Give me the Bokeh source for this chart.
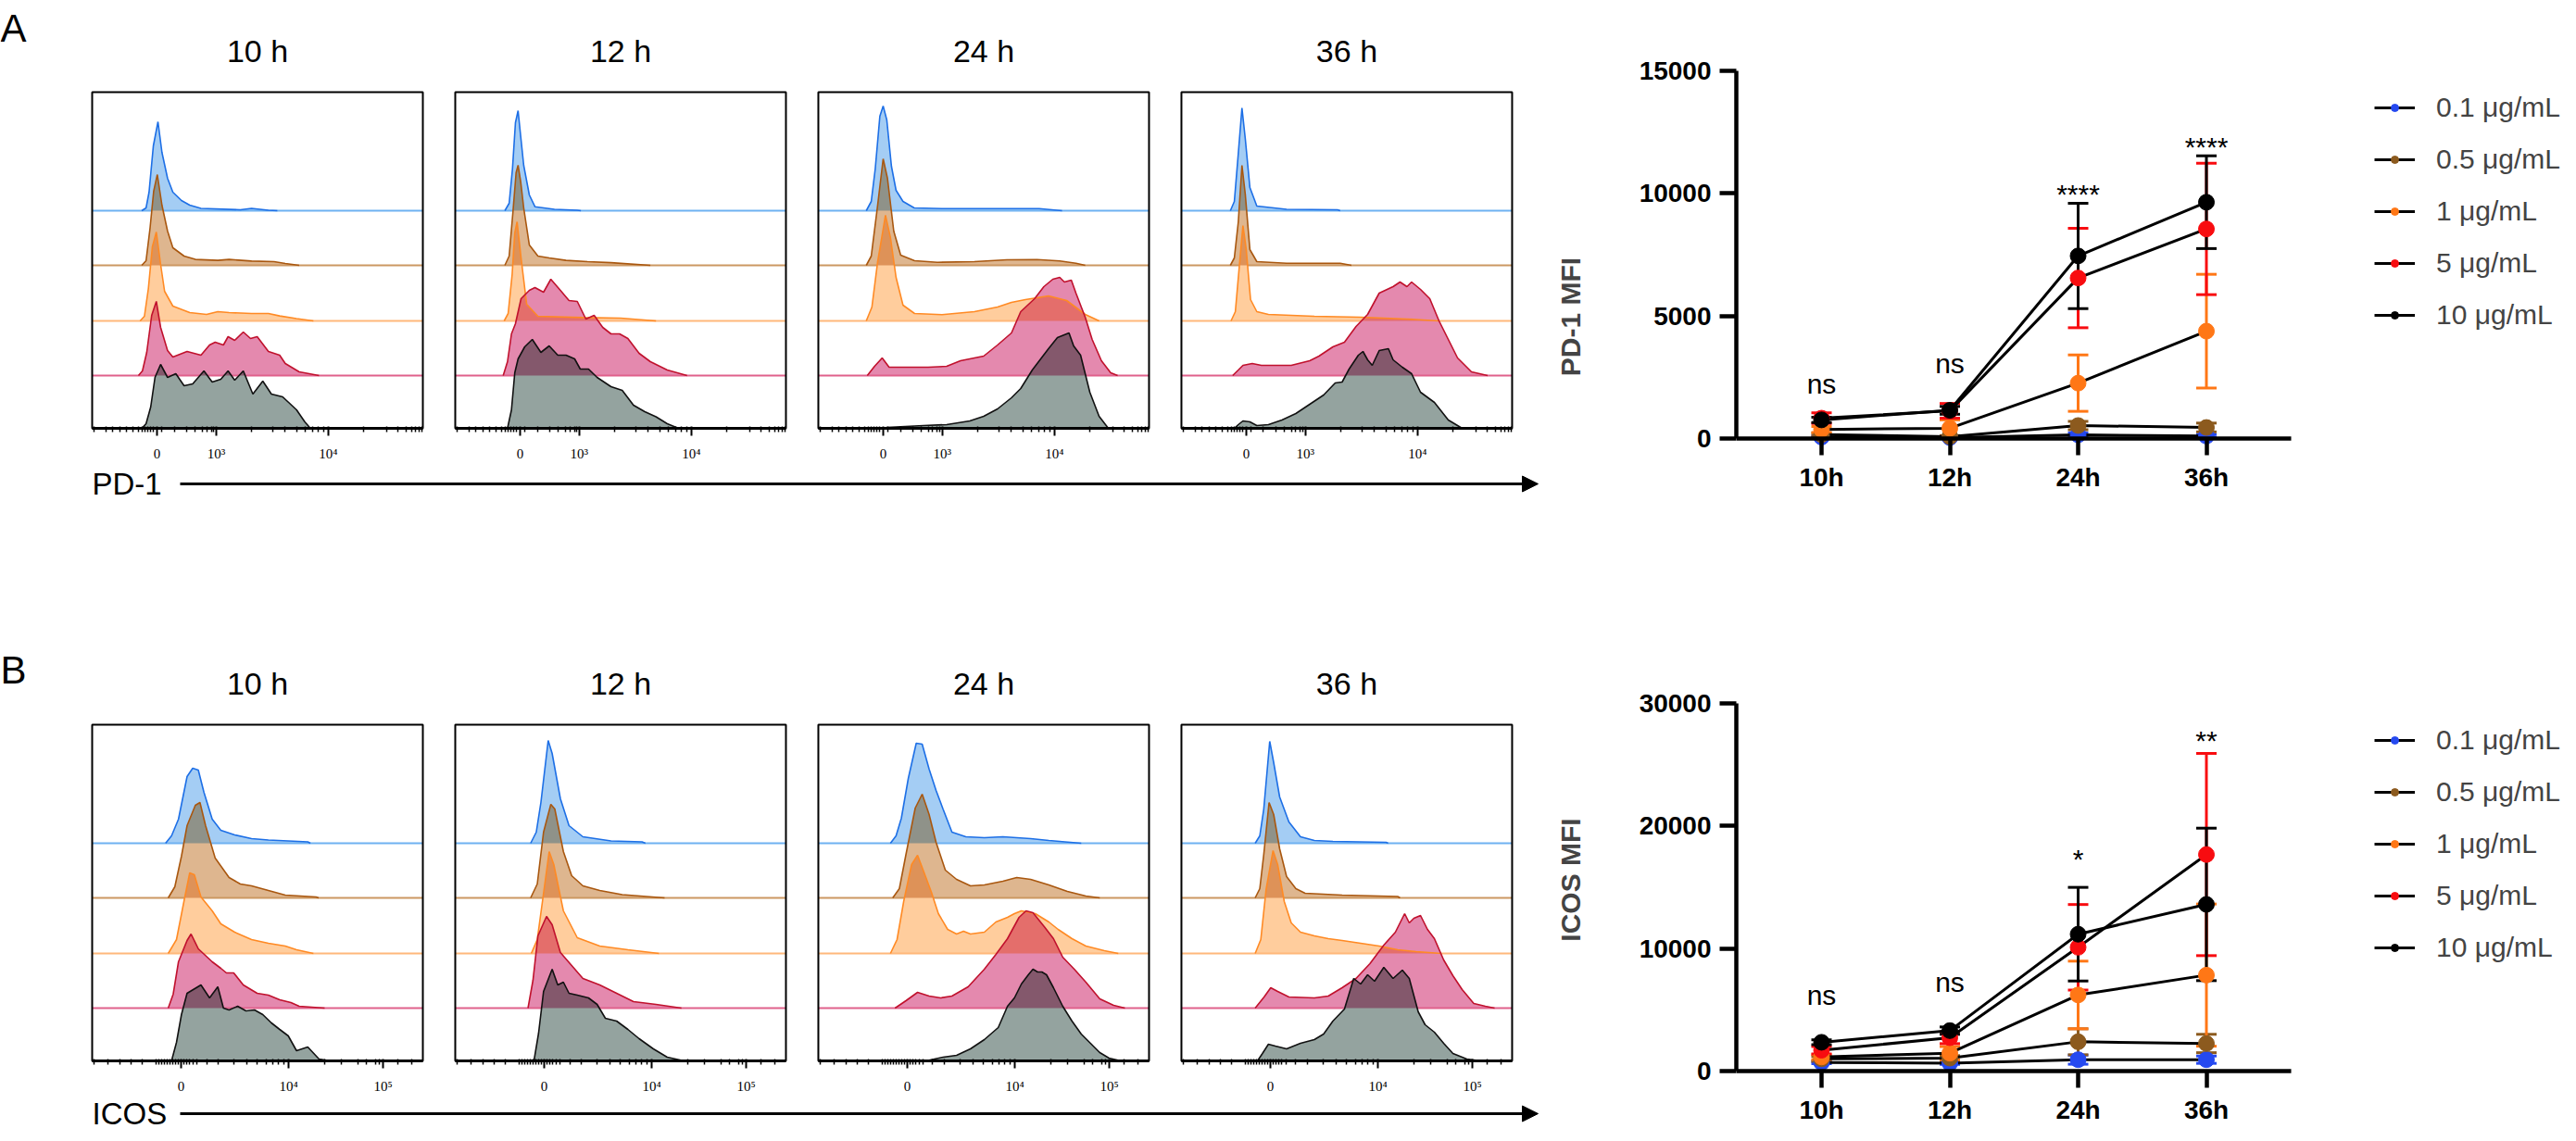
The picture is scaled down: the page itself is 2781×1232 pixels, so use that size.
import numpy as np
from bokeh.plotting import figure
from bokeh.layouts import row, column
from bokeh.models import (ColumnDataSource, FixedTicker, Range1d, Legend, LegendItem,
                          LinearAxis, Arrow, NormalHead)
from bokeh.core.properties import value
from bokeh.embed import file_html
from bokeh.resources import INLINE

FONT = "Liberation Sans"

TIMES = ["10 h", "12 h", "24 h", "36 h"]
TIME_TICKS = ["10h", "12h", "24h", "36h"]
DOSES = ["0.1 μg/mL", "0.5 μg/mL", "1 μg/mL", "5 μg/mL", "10 μg/mL"]

# FlowJo biex axis, read in box units (0..1000 across each plot box)
PD1_MAJOR = [196, 375, 714]
PD1_MAJOR_LABELS = ["0", "10³", "10⁴"]
PD1_MINOR = [7, 41, 63, 84, 104, 122, 139, 151, 160, 168, 177, 185, 211, 248, 287, 312,
             333, 346, 360, 368, 482, 545, 584, 618, 643, 666, 683, 699, 822, 890, 924,
             949, 966, 978, 988, 997]
ICOS_MAJOR = [269, 594, 880]
ICOS_MAJOR_LABELS = ["0", "10⁴", "10⁵"]
ICOS_MINOR = [7, 49, 83, 117, 151, 194, 202, 211, 219, 228, 236, 245, 253, 260, 278, 287,
              295, 304, 316, 346, 380, 428, 469, 499, 528, 545, 564, 581, 703, 754, 805,
              830, 856, 869, 924, 966]

# histogram outlines: (channel position, height above the row baseline)
pd1_10h_01 = [(150,0),(163,3),(172,20),(185,70),(199,96),(211,63),(228,35),(244,20),(270,11),(295,6),(329,2.5),(448,1),(482,2.5),(533,0.5),(560,0)]
pd1_10h_05 = [(150,0),(163,5),(175,40),(186,80),(197,98),(211,65),(228,37),(244,19),(278,10),(312,6.4),(380,5.4),(414,6.4),(482,4.6),(550,4),(584,2),(626,0)]
pd1_10h_1 = [(145,0),(158,5),(170,35),(182,80),(194,96),(207,61),(219,32),(244,16),(295,9),(346,7),(380,10),(414,9),(482,8),(533,8),(567,5.4),(618,2.5),(669,0)]
pd1_10h_5 = [(140,0),(152,5),(165,25),(180,65),(194,80),(207,52),(228,27),(244,20),(287,26),(329,22),(355,33),(372,36),(397,33),(411,42),(431,38),(457,47),(479,40),(499,42),(533,26),(567,22),(584,13),(626,4),(686,0)]
pd1_10h_10 = [(150,0),(163,5),(177,23),(190,55),(207,69),(228,55),(253,59),(278,46),(304,48),(338,62),(363,50),(389,53),(411,62),(431,52),(457,62),(486,37),(516,51),(542,37),(576,34),(618,20),(643,7),(660,0)]

pd1_12h_01 = [(150,0),(163,8),(173,45),(182,95),(190,108),(198,80),(207,49),(224,17),(241,4.3),(300,1.5),(369,0.5),(380,0)]
pd1_12h_05 = [(150,0),(163,10),(175,60),(184,100),(190,108),(198,90),(207,62),(224,22),(250,10),(284,8),(335,5.4),(400,4),(471,2.9),(590,0)]
pd1_12h_1 = [(148,0),(160,8),(172,50),(180,95),(187,107),(199,68),(216,18),(250,5),(386,3.6),(500,3),(607,0)]
pd1_12h_5 = [(145,0),(158,15),(170,45),(182,56),(199,83),(224,92),(241,95),(267,90),(289,104),(318,92),(344,81),(369,80),(395,61),(420,65),(446,52),(471,45),(497,45),(522,40),(556,24),(590,15),(641,6),(701,0)]
pd1_12h_10 = [(158,0),(170,20),(180,60),(190,75),(210,88),(233,96),(259,82),(284,89),(310,79),(335,79),(361,75),(378,64),(403,64),(429,55),(471,45),(505,41),(539,25),(573,18),(607,12.5),(641,5),(675,0)]

pd1_24h_01 = [(145,0),(160,10),(172,45),(186,102),(196,113),(207,98),(221,48),(235,22),(256,10),(290,3),(374,2.3),(668,2.3),(737,0)]
pd1_24h_05 = [(145,0),(160,10),(179,64),(196,115),(209,94),(228,37),(249,11),(291,5),(360,3.3),(472,4),(570,6),(661,6.3),(730,4.7),(779,2.3),(807,0)]
pd1_24h_1 = [(145,0),(162,15),(179,63),(203,114),(218,90),(235,47),(256,17),(291,8),(374,6.7),(472,10),(542,15),(584,20),(626,23),(696,27),(751,22),(807,7),(849,0)]
pd1_24h_5 = [(148,0),(170,10),(193,19),(214,9),(235,9),(332,9),(388,10),(430,16),(500,21),(542,33),(584,46),(612,69),(654,83),(682,96),(709,104),(730,106),(744,101),(765,103),(779,89),(807,63),(828,39),(856,16),(884,3),(905,0)]
pd1_24h_10 = [(190,0),(207,1),(318,3),(388,4),(458,8),(500,13),(542,21),(584,33),(612,43),(647,63),(696,86),(723,98),(744,101),(758,103),(772,89),(793,79),(821,39),(849,13),(877,0)]

pd1_36h_01 = [(148,0),(160,10),(172,62),(183,111),(193,78),(207,25),(228,5),(318,1.5),(472,1),(480,0)]
pd1_36h_05 = [(148,0),(160,8),(172,47),(183,108),(193,77),(207,17),(228,4),(318,2.3),(480,2.3),(514,0)]
pd1_36h_1 = [(150,0),(163,10),(176,63),(186,103),(196,77),(209,23),(228,10),(263,7),(402,5),(542,4),(682,2),(779,0)]
pd1_36h_5 = [(155,0),(172,6),(186,11),(214,13),(242,11),(332,11),(388,16),(416,21),(458,31),(493,36),(528,53),(563,66),(598,89),(640,96),(661,101),(682,96),(696,101),(723,93),(751,83),(779,59),(807,39),(835,19),(877,4),(926,0)]
pd1_36h_10 = [(160,0),(172,4),(186,8),(207,7),(228,3),(263,4),(304,9),(346,16),(388,26),(430,36),(465,49),(486,50),(507,64),(535,79),(549,83),(563,74),(577,68),(598,84),(626,86),(640,74),(668,66),(696,59),(723,39),(765,28),(807,9),(849,0)]

icos_10h_01 = [(222,0),(240,8),(261,26),(287,72),(304,81),(321,79),(338,55),(363,26),(389,14),(431,9),(482,5),(533,3.5),(652,1.5),(660,0)]
icos_10h_05 = [(230,0),(250,12),(270,45),(287,78),(312,100),(326,103),(343,78),(372,43),(414,22),(448,15),(482,13),(533,8),(584,3),(677,1),(685,0)]
icos_10h_1 = [(230,0),(255,15),(278,57),(295,87),(309,85),(329,61),(363,46),(389,32),(431,23),(482,15),(533,11),(584,8),(618,4),(669,0)]
icos_10h_5 = [(230,0),(245,15),(261,50),(287,73),(299,80),(321,64),(363,50),(389,43),(406,38),(428,38),(457,25),(499,16),(533,14),(567,9),(601,6),(626,2),(703,0)]
icos_10h_10 = [(240,0),(255,20),(270,50),(287,73),(329,82),(355,68),(380,80),(397,57),(414,55),(440,59),(465,54),(491,55),(516,50),(542,41),(567,34),(593,27),(618,11),(652,15),(686,2),(720,0)]

icos_12h_01 = [(228,0),(245,12),(259,44),(281,111),(293,97),(318,48),(344,19),(386,7),(471,2.5),(565,1.5),(575,0)]
icos_12h_05 = [(228,0),(248,15),(267,71),(289,101),(301,96),(327,50),(352,24),(386,13),(437,8),(505,3.5),(633,0)]
icos_12h_1 = [(230,0),(248,15),(264,57),(284,110),(298,96),(327,46),(369,17),(437,8),(522,4),(616,0)]
icos_12h_5 = [(220,0),(235,30),(250,78),(276,99),(293,90),(318,60),(352,46),(386,32),(437,25),(488,16),(539,7),(607,4),(684,0)]
icos_12h_10 = [(238,0),(252,30),(267,75),(293,99),(310,82),(327,85),(344,73),(369,71),(403,68),(429,61),(454,46),(488,43),(522,34),(556,24),(599,13),(641,4),(692,0)]

icos_24h_01 = [(218,0),(235,8),(251,27),(272,70),(296,108),(314,107),(335,80),(356,57),(377,37),(404,12),(446,7),(502,6),(558,7),(642,5),(697,3),(795,0)]
icos_24h_05 = [(225,0),(245,10),(265,47),(293,97),(314,112),(335,90),(356,60),(384,30),(418,20),(460,13),(502,14),(558,18),(600,22),(642,20),(697,14),(753,7),(809,2),(851,0)]
icos_24h_1 = [(218,0),(238,15),(258,56),(282,96),(300,106),(318,89),(342,66),(363,43),(391,26),(418,21),(439,24),(460,21),(502,23),(537,34),(572,39),(593,43),(614,46),(656,43),(697,34),(725,26),(767,16),(809,8),(865,3),(907,0)]
icos_24h_5 = [(232,0),(265,8),(300,17),(335,13),(370,11),(404,13),(453,23),(502,42),(537,58),(572,75),(607,98),(628,105),(649,103),(683,88),(711,75),(739,55),(774,42),(809,28),(851,10),(893,3),(927,0)]
icos_24h_10 = [(325,0),(377,4),(418,6),(460,13),(502,23),(544,36),(572,59),(593,68),(614,83),(635,93),(649,99),(663,96),(676,96),(690,93),(711,79),(739,59),(767,43),(795,29),(823,19),(851,9),(879,3),(915,0)]

icos_36h_01 = [(223,0),(237,8),(249,37),(267,110),(279,87),(297,50),(325,23),(360,7),(402,3),(458,2),(619,1),(625,0)]
icos_36h_05 = [(223,0),(237,10),(249,47),(265,103),(279,90),(297,53),(318,23),(346,10),(374,5),(486,3),(654,1.5),(661,0)]
icos_36h_1 = [(223,0),(240,15),(256,69),(277,111),(291,96),(311,56),(332,33),(360,23),(402,19),(444,16),(486,14),(542,11),(598,8),(654,4),(709,2),(786,0)]
icos_36h_5 = [(223,0),(250,12),(270,22),(291,18),(325,12),(402,11),(444,13),(486,22),(528,32),(570,48),(612,68),(647,82),(675,102),(689,92),(703,97),(723,100),(744,85),(765,75),(793,52),(821,35),(849,20),(884,5),(919,2),(947,0)]
icos_36h_10 = [(230,0),(245,8),(263,18),(284,16),(318,13),(360,19),(402,23),(430,29),(458,43),(493,56),(521,89),(542,83),(563,93),(584,86),(612,101),(640,89),(668,98),(689,89),(716,53),(737,39),(765,31),(793,19),(821,8),(863,2),(905,0)]

# MFI (mean, SD) per dose at 10h, 12h, 24h, 36h
pd1_mean_01 = [60, 40, 150, 100]
pd1_sd_01 = [40, 30, 80, 60]
pd1_mean_05 = [160, 80, 530, 450]
pd1_sd_05 = [60, 40, 170, 180]
pd1_mean_1 = [370, 420, 2260, 4380]
pd1_sd_1 = [120, 340, 1150, 2320]
pd1_mean_5 = [830, 1130, 6550, 8550]
pd1_sd_5 = [220, 300, 2030, 2680]
pd1_mean_10 = [760, 1150, 7450, 9640]
pd1_sd_10 = [110, 160, 2150, 1890]

icos_mean_01 = [700, 650, 930, 930]
icos_sd_01 = [100, 100, 370, 300]
icos_mean_05 = [1000, 1060, 2390, 2250]
icos_sd_05 = [200, 200, 1060, 750]
icos_mean_1 = [1150, 1460, 6210, 7830]
icos_sd_1 = [200, 540, 2760, 5800]
icos_mean_5 = [1700, 2720, 10100, 17670]
icos_sd_5 = [300, 480, 3490, 8250]
icos_mean_10 = [2350, 3300, 11170, 13600]
icos_sd_10 = [200, 300, 3820, 6220]

PD1_SIG = ["ns", "ns", "****", "****"]
PD1_SIG_Y = [2230, 3060, 9970, 11900]
ICOS_SIG = ["ns", "ns", "*", "**"]
ICOS_SIG_Y = [6180, 7230, 17340, 26990]

DOSE_COLORS = ["#2549f0", "#8c5a1e", "#ff7716", "#f80c10", "#000000"]
HIST_FILL = ["#a4cdf4", "#deb68f", "#ffcd9d", "#e489ae", "#94a39f"]
HIST_LINE = ["#1d6fe6", "#a9570f", "#ff8a24", "#c0112d", "#111111"]
HIST_BASE = ["#6eb1f1", "#cc9862", "#ffb87b", "#e0618b", "#111111"]
ROW_BASE = [235, 176, 116, 57, 0]   # px above the box bottom
BOX_H = 363
PANEL_STEP = 1098                    # box (1000) + gap, in box units


def multiply(c1, c2):
    a = [int(c1[k:k + 2], 16) for k in (1, 3, 5)]
    b = [int(c2[k:k + 2], 16) for k in (1, 3, 5)]
    return "#" + "".join(f"{round(x * y / 255):02x}" for x, y in zip(a, b))


def histogram_row(letter, letter_base, panels, major, major_labels, minor, marker, label_y, height):
    px = 1000 / 357
    x0 = -99 * px
    p = figure(width=1667, height=height, x_range=Range1d(x0, x0 + 1667 * px),
               y_range=Range1d(462 - height, 462), x_axis_location=None, y_axis_location=None,
               toolbar_location=None, output_backend="svg", min_border=0, title=None,
               outline_line_color=None)
    p.grid.visible = False

    grid = np.arange(0, 1001, 1.0)
    for k, panel in enumerate(panels):
        off = k * PANEL_STEP
        shapes = [(np.array([q[0] for q in c], float), np.array([q[1] for q in c], float))
                  for c in panel]
        for i, (xs, hs) in enumerate(shapes):
            base = ROW_BASE[i]
            p.varea(x=xs + off, y1=np.full_like(hs, base), y2=hs + base,
                    fill_color=HIST_FILL[i])
            if i < 4:
                p.segment(x0=[off], y0=[base], x1=[off + 1000], y1=[base],
                          line_color=HIST_BASE[i], line_width=2)
        # overlapping parts of neighbouring histograms (darker, like multiply)
        for i in range(5):
            for j in range(i + 1, 5):
                ti = ROW_BASE[i] + np.interp(grid, *shapes[i], left=0, right=0)
                tj = ROW_BASE[j] + np.interp(grid, *shapes[j], left=0, right=0)
                top = np.maximum(ROW_BASE[i], np.minimum(ti, tj))
                if (top > ROW_BASE[i] + 0.5).any():
                    p.varea(x=grid + off, y1=np.full_like(grid, ROW_BASE[i]), y2=top,
                            fill_color=multiply(HIST_FILL[i], HIST_FILL[j]))
        for i, (xs, hs) in enumerate(shapes):
            p.line(xs + off, hs + ROW_BASE[i], line_color=HIST_LINE[i], line_width=1.6)
        p.quad(left=[off], right=[off + 1000], bottom=[0], top=[BOX_H], fill_color=None,
               line_color="black", line_width=2)
        p.segment(x0=[off], y0=[0], x1=[off + 1000], y1=[0], line_color="black", line_width=3)
        p.text(x=[off + 500], y=[408], text=[TIMES[k]], text_align="center",
               text_baseline="middle", text_font=value(FONT), text_font_size="34px",
               text_color="black")

    ticks = [k * PANEL_STEP + t for k in range(4) for t in major]
    minors = [k * PANEL_STEP + t for k in range(4) for t in minor]
    labels = {k * PANEL_STEP + t: lab for k in range(4) for t, lab in zip(major, major_labels)}
    ax = LinearAxis(fixed_location=0, ticker=FixedTicker(ticks=ticks, minor_ticks=minors),
                    major_label_overrides=labels, axis_line_color=None,
                    major_tick_out=8, major_tick_in=2, minor_tick_out=4, minor_tick_in=2,
                    major_tick_line_width=2, minor_tick_line_width=1.5,
                    major_label_standoff=11, major_label_text_font="Liberation Serif",
                    major_label_text_font_size="15px", major_label_text_color="black")
    p.add_layout(ax, "below")

    p.text(x=[x0], y=[462 - letter_base], text=[letter], text_align="left",
           text_baseline="alphabetic", text_font=value(FONT), text_font_size="42px")
    p.text(x=[0], y=[label_y], text=[marker], text_align="left", text_baseline="middle",
           text_font=value(FONT), text_font_size="33px")
    p.add_layout(Arrow(x_start=95 * px, y_start=label_y, x_end=1561 * px, y_end=label_y,
                       line_width=3, line_color="black",
                       end=NormalHead(size=17, fill_color="black", line_color="black")))
    return p


def line_chart(means, sds, ymax, ylabel, sig_text, sig_y, height):
    # frame fills the figure height: zero line at 473 px, top tick at 76 px
    k = (473 - 76) / ymax
    y0 = -(height - 473) / k
    y1 = ymax + 76 / k
    x0 = 1 - 92 / 138.5
    x1 = x0 + 891 / 138.5
    p = figure(width=1098, height=height, x_range=Range1d(x0, x1), y_range=Range1d(y0, y1),
               toolbar_location=None, output_backend="svg", min_border_left=207, title=None,
               min_border_right=0, min_border_top=0, min_border_bottom=0,
               outline_line_color=None)
    p.grid.visible = False

    x = [1, 2, 3, 4]
    lines, dots = [], []
    sources = []
    for m, s in zip(means, sds):
        sources.append(ColumnDataSource(dict(
            x=x, mean=m, lower=[a - b for a, b in zip(m, s)], upper=[a + b for a, b in zip(m, s)])))
    for src, c in zip(sources, DOSE_COLORS):
        p.segment(x0="x", y0="lower", x1="x", y1="upper", source=src, line_color=c, line_width=3)
        p.scatter("x", "upper", source=src, marker="dash", size=22, line_color=c, line_width=3)
        p.scatter("x", "lower", source=src, marker="dash", size=22, line_color=c, line_width=3)
    for src in sources:
        lines.append(p.line("x", "mean", source=src, line_color="black", line_width=3))
    for src, c in zip(sources, DOSE_COLORS):
        dots.append(p.scatter("x", "mean", source=src, size=17, fill_color=c, line_color=c))

    p.text(x=x, y=sig_y, text=sig_text, text_align="center", text_baseline="middle",
           text_font=value(FONT), text_font_size="30px", text_color="black")

    for ax in (p.xaxis[0], p.yaxis[0]):
        ax.axis_line_width = 4.5
        ax.major_tick_line_width = 4.5
        ax.major_tick_out = 18
        ax.major_tick_in = 0
        ax.minor_tick_out = 0
        ax.minor_tick_in = 0
        ax.major_label_text_font = FONT
        ax.major_label_text_font_style = "bold"
        ax.major_label_text_font_size = "28px"
        ax.major_label_text_color = "black"
    p.xaxis.fixed_location = 0
    p.xaxis.ticker = FixedTicker(ticks=x)
    p.xaxis.major_label_overrides = {i + 1: t for i, t in enumerate(TIME_TICKS)}
    p.xaxis.bounds = (x0, 4.66)
    p.xaxis.major_label_standoff = 8
    p.yaxis.bounds = (0, ymax)
    p.yaxis.ticker = FixedTicker(ticks=[0, ymax / 3, 2 * ymax / 3, ymax])
    p.yaxis.major_label_standoff = 9
    p.yaxis.axis_label = ylabel
    p.yaxis.axis_label_text_font = FONT
    p.yaxis.axis_label_text_font_style = "bold"
    p.yaxis.axis_label_text_font_size = "30px"
    p.yaxis.axis_label_standoff = 55

    items = [LegendItem(label=d, renderers=[l, s]) for d, l, s in zip(DOSES, lines, dots)]
    leg = Legend(items=items, location=(689, height - 357), glyph_width=44, glyph_height=20,
                 label_standoff=23, spacing=22, padding=0, margin=0, border_line_color=None,
                 background_fill_alpha=0, label_text_font=FONT, label_text_font_size="30px")
    p.add_layout(leg)
    return p


pd1_panels = [
    [pd1_10h_01, pd1_10h_05, pd1_10h_1, pd1_10h_5, pd1_10h_10],
    [pd1_12h_01, pd1_12h_05, pd1_12h_1, pd1_12h_5, pd1_12h_10],
    [pd1_24h_01, pd1_24h_05, pd1_24h_1, pd1_24h_5, pd1_24h_10],
    [pd1_36h_01, pd1_36h_05, pd1_36h_1, pd1_36h_5, pd1_36h_10],
]
icos_panels = [
    [icos_10h_01, icos_10h_05, icos_10h_1, icos_10h_5, icos_10h_10],
    [icos_12h_01, icos_12h_05, icos_12h_1, icos_12h_5, icos_12h_10],
    [icos_24h_01, icos_24h_05, icos_24h_1, icos_24h_5, icos_24h_10],
    [icos_36h_01, icos_36h_05, icos_36h_1, icos_36h_5, icos_36h_10],
]

hist_a = histogram_row("A", 30, pd1_panels, PD1_MAJOR, PD1_MAJOR_LABELS, PD1_MINOR,
                       "PD-1", -60, 683)
hist_b = histogram_row("B", 40, icos_panels, ICOS_MAJOR, ICOS_MAJOR_LABELS, ICOS_MINOR,
                       "ICOS", -57, 533)

line_a = line_chart([pd1_mean_01, pd1_mean_05, pd1_mean_1, pd1_mean_5, pd1_mean_10],
                    [pd1_sd_01, pd1_sd_05, pd1_sd_1, pd1_sd_5, pd1_sd_10],
                    15000, "PD-1 MFI", PD1_SIG, PD1_SIG_Y, 683)
line_b = line_chart([icos_mean_01, icos_mean_05, icos_mean_1, icos_mean_5, icos_mean_10],
                    [icos_sd_01, icos_sd_05, icos_sd_1, icos_sd_5, icos_sd_10],
                    30000, "ICOS MFI", ICOS_SIG, ICOS_SIG_Y, 533)

layout = column(row(hist_a, line_a), row(hist_b, line_b))

open("out.html", "w").write(file_html(layout, INLINE, "PD-1 and ICOS expression"))
